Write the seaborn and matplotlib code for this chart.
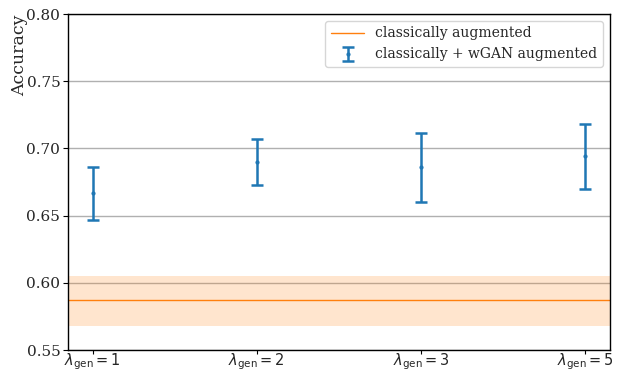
import numpy as np
import matplotlib
matplotlib.use("Agg")
import matplotlib.pyplot as plt
import seaborn as sns

# Data
categories = [r"$\lambda_{\mathrm{gen}} = 1$", r"$\lambda_{\mathrm{gen}} = 2$",
              r"$\lambda_{\mathrm{gen}} = 3$", r"$\lambda_{\mathrm{gen}} = 5$"]
wgan_mean = [0.6665, 0.6900, 0.6858, 0.6940]
wgan_err = [0.0200, 0.0171, 0.0257, 0.0242]
classic_mean = 0.5869
classic_low = 0.5681
classic_high = 0.6053

sns.set_style("white")
plt.rcParams['font.family'] = ['DejaVu Serif']
plt.rcParams['mathtext.fontset'] = 'dejavusans'

fig = plt.figure(figsize=(6.22, 3.75), dpi=100)
ax = fig.add_axes([68/622, 1-350/375, (610-68)/622, (350-14)/375])

x = np.arange(len(categories))
ax.axhline(classic_mean, color="#ff7f0e", lw=1, label="classically augmented", zorder=2)
ax.axhspan(classic_low, classic_high, color="#ff7f0e", alpha=0.2, lw=0, zorder=1)
ax.errorbar(x, wgan_mean, yerr=wgan_err, fmt='.', color="#1f77b4", ms=4,
            elinewidth=1.8, capsize=4, capthick=1.8,
            label="classically + wGAN augmented", zorder=3)

ax.set_xticks(x)
ax.set_xticklabels(categories, fontsize=10.5)
ax.set_ylim(0.55, 0.80)
ax.set_yticks([0.55, 0.60, 0.65, 0.70, 0.75, 0.80])
ax.set_yticklabels(["0.55", "0.60", "0.65", "0.70", "0.75", "0.80"], fontsize=11)
ax.set_xlim(-0.15, 3.15)
ax.set_ylabel("Accuracy", fontsize=12.5, labelpad=-1.5, loc="top")
ax.yaxis.grid(True, color="#b0b0b0", lw=1, zorder=0)
ax.set_axisbelow(True)
for s in ax.spines.values():
    s.set_color("black")
    s.set_linewidth(1)
ax.tick_params(axis='y', direction='out', length=3.5, width=0.8, color='black', pad=2, left=True)
ax.tick_params(axis='x', direction='out', length=3, width=0.8, color='black', pad=-2, bottom=True)

ax.legend(loc="upper right", fontsize=10, frameon=True, borderaxespad=0.5,
          handlelength=2.4)

fig.savefig("out.png", dpi=100)
